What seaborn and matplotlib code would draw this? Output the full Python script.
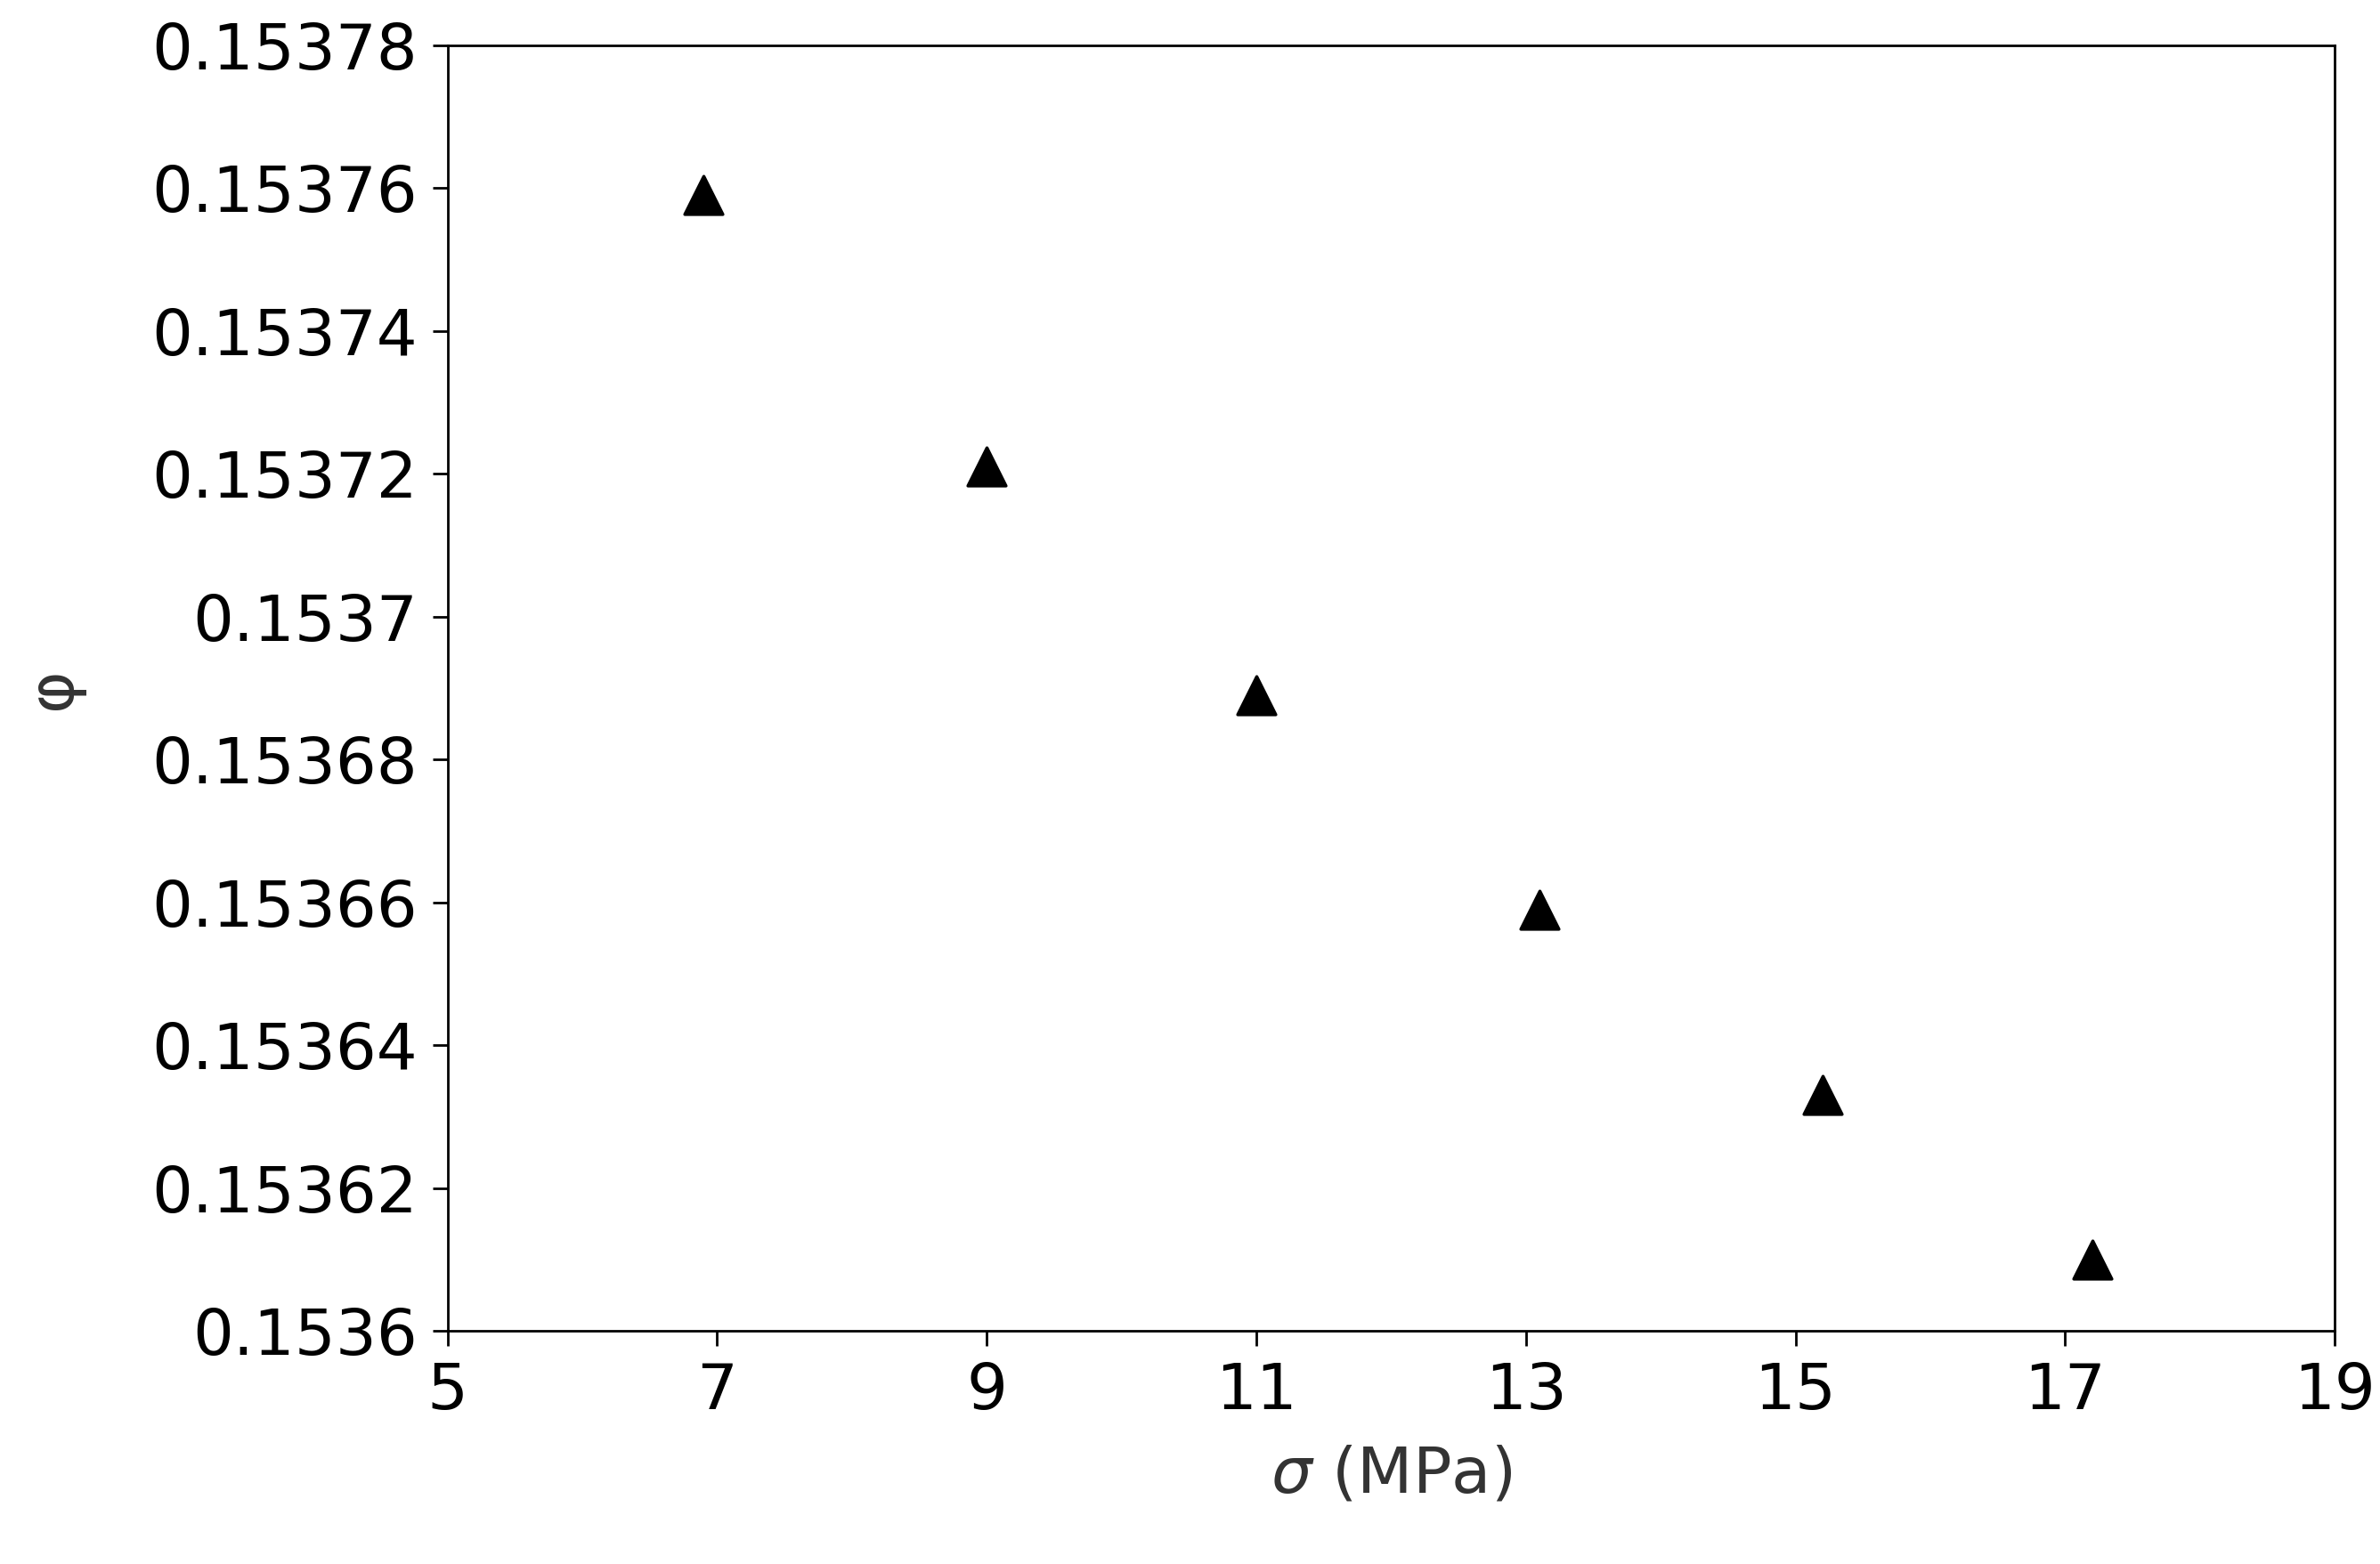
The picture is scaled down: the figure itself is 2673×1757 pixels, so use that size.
import matplotlib
matplotlib.use("Agg")
import matplotlib.pyplot as plt
import seaborn as sns
import pandas as pd
from matplotlib.ticker import FuncFormatter

sigma = [6.9, 9.0, 11.0, 13.1, 15.2, 17.2]
phi = [0.153759, 0.153721, 0.153689, 0.153659, 0.153633, 0.153610]
df = pd.DataFrame({"sigma": sigma, "phi": phi})

sns.set_style("ticks")
plt.rcParams['font.family'] = ['DejaVu Sans']
fig = plt.figure(figsize=(26.73, 17.57), dpi=100)
ax = fig.add_axes([0.188, 0.149, 0.793, 0.822])
sns.scatterplot(data=df, x="sigma", y="phi", marker="^", s=950, color="black", edgecolor="black", ax=ax, legend=False)
ax.set_xlim(5, 19)
ax.set_ylim(0.1536, 0.15378)
ax.set_xticks(range(5, 20, 2))
ax.set_yticks([0.1536 + 0.00002 * i for i in range(10)])
ax.yaxis.set_major_formatter(FuncFormatter(lambda v, p: f"{v:.5f}".rstrip('0')))
ax.tick_params(labelsize=52, length=12, width=2, direction="out", colors="black", pad=12)
for s in ax.spines.values():
    s.set_linewidth(2)
    s.set_color("black")
    s.set_visible(True)
ax.set_xlabel(r"$\sigma$ (MPa)", fontsize=52, color="#333333", labelpad=18)
ax.set_ylabel("φ", fontsize=52, color="#333333", labelpad=55)
fig.savefig("out.png", dpi=100)
